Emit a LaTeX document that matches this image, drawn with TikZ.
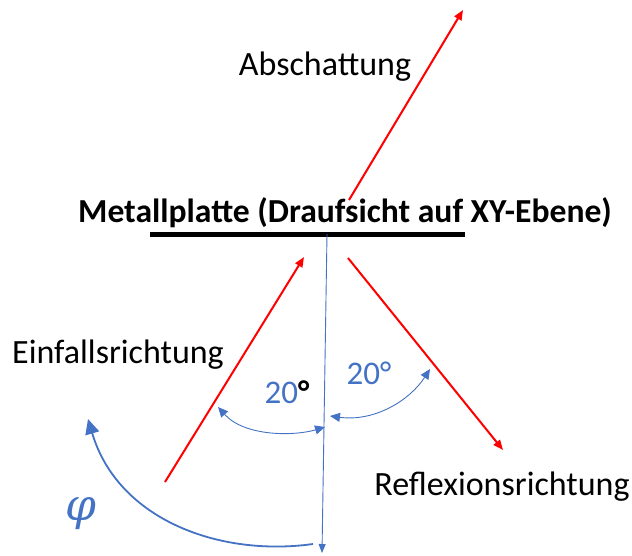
\documentclass[tikz,border=0pt]{standalone}
\usepackage{fontspec}
\setmainfont{Carlito}
\newfontfamily\phifont{DejaVu Serif}
\usetikzlibrary{arrows.meta}
\definecolor{myblue}{HTML}{4472C4}
\begin{document}
\begin{tikzpicture}[x=1pt,y=-1pt,
  redarrow/.style={draw=red,line width=2pt,-{Triangle[length=10pt,width=8pt]}},
  bluethin/.style={draw=myblue,line width=0.9pt},
  lbl/.style={inner sep=0pt,anchor=center,font=\fontsize{34}{40}\selectfont},
  anglbl/.style={inner sep=0pt,anchor=center,text=myblue,font=\fontsize{33}{38}\selectfont}]
\useasboundingbox (0,0) rectangle (632,555);
% coordinates
\coordinate (pl) at (150,234);
\coordinate (pr) at (465,234);
\coordinate (nTop) at (327,234);
\coordinate (nBot) at (322,553);
\coordinate (inS) at (165,482);
\coordinate (inE) at (304,257);
\coordinate (rfS) at (348,258);
\coordinate (rfE) at (503,450);
\coordinate (abS) at (349,200);
\coordinate (abE) at (463,10);
\coordinate (a1s) at (218,407);
\coordinate (a1e) at (325,427);
\coordinate (a2s) at (330,416);
\coordinate (a2e) at (430,369);
\coordinate (phS) at (313,544);
\coordinate (phE) at (88,419);
% plate
\draw[line width=5pt] (pl) -- (pr);
% labels
\node[lbl,font=\fontsize{33.6}{40}\selectfont\bfseries] (title) at (345,213) {Metallplatte (Draufsicht auf XY-Ebene)};
\node[lbl] (abs) at (325,67) {Abschattung};
\node[lbl] (ein) at (118,355) {Einfallsrichtung};
\node[lbl] (ref) at (502,487) {Reflexionsrichtung};
\node[anglbl] (l1) at (287,392) {20\textcolor{black}{\bfseries °}};
\node[anglbl] (l2) at (369,373) {20°};
\node[inner sep=0pt,text=myblue,font=\phifont\itshape\fontsize{44}{50}\selectfont] (phi) at (81,514) {φ};
% normal
\draw[bluethin,-{Triangle[length=9pt,width=7pt]}] (nTop) -- (nBot);
% red rays
\draw[redarrow] (inS) -- (inE);
\draw[redarrow] (rfS) -- (rfE);
\draw[redarrow] (abS) -- (abE);
% angle arcs
\draw[bluethin,{Triangle[length=10pt,width=9pt]}-{Triangle[length=10pt,width=9pt]}] (a1s) .. controls (245,437) and (295,436) .. (a1e);
\draw[bluethin,{Triangle[length=10pt,width=9pt]}-{Triangle[length=10pt,width=9pt]}] (a2s) .. controls (375,422) and (410,400) .. (a2e);
% phi arc
\draw[draw=myblue,line width=1.8pt,-{Triangle[length=15pt,width=14pt]}] (phS) .. controls (220,557) and (118,520) .. (phE);
\end{tikzpicture}
\end{document}
